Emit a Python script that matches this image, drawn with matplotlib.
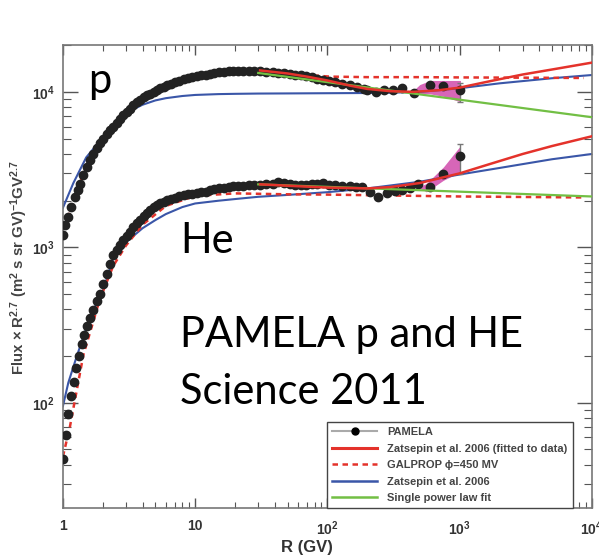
import matplotlib
matplotlib.use('Agg')
import matplotlib.pyplot as plt
from matplotlib.lines import Line2D

plt.rcParams['font.family'] = ['Liberation Sans', 'DejaVu Sans']
plt.rcParams['mathtext.fontset'] = 'custom'
plt.rcParams['mathtext.rm'] = 'Liberation Sans:bold'
plt.rcParams['mathtext.it'] = 'Liberation Sans:bold'
plt.rcParams['mathtext.bf'] = 'Liberation Sans:bold'

# PAMELA protons (R in GV, flux x R^2.7)
r_p = [1.00, 1.04, 1.10, 1.16, 1.23, 1.29, 1.35, 1.43, 1.51, 1.60, 1.70, 1.80, 1.91, 2.02,
       2.14, 2.27, 2.40, 2.55, 2.70, 2.87, 3.04, 3.22, 3.41, 3.62, 3.84, 4.07, 4.32, 4.56,
       4.85, 5.15, 5.47, 5.80, 6.10, 6.55, 7.00, 7.55, 8.17, 8.80, 9.50, 10.3, 11.1, 12.0,
       13.0, 14.0, 15.2, 16.5, 17.9, 19.5, 21.2, 23.2, 25.4, 28.0, 31.0, 34.5, 38.5, 42.5,
       47.0, 52.0, 57.0, 63.0, 69.0, 76.0, 84.0, 93.0, 103, 115, 130, 148, 168, 188, 200,
       235, 270, 311, 364, 455, 594, 755, 1015]
flux_p = [1195, 1390, 1570, 1820, 2110, 2340, 2575, 2950, 3300, 3650, 4010, 4350, 4680, 5020,
          5350, 5690, 6000, 6380, 6760, 7100, 7450, 7850, 8240, 8600, 8950, 9300, 9550, 9800,
          10100, 10400, 10650, 10870, 11090, 11350, 11580, 11800, 12080, 12300, 12500, 12700, 12870, 13000,
          13150, 13300, 13420, 13530, 13620, 13720, 13750, 13770, 13740, 13700, 13650, 13520, 13420, 13280,
          13200, 13050, 12950, 12870, 12700, 12550, 12200, 11950, 11750, 11600, 11300, 11100, 10750, 10560, 10400,
          10050, 10400, 10400, 10580, 9950, 11100, 10930, 10300]

# PAMELA helium
r_he = [1.00, 1.05, 1.10, 1.15, 1.21, 1.26, 1.32, 1.39, 1.45, 1.52, 1.60, 1.69, 1.80, 1.91,
        2.02, 2.14, 2.27, 2.40, 2.55, 2.70, 2.87, 3.04, 3.22, 3.41, 3.62, 3.84, 4.07, 4.32,
        4.58, 4.85, 5.15, 5.47, 5.80, 6.15, 6.55, 7.00, 7.55, 8.17, 8.80, 9.50, 10.3, 11.1,
        12.0, 13.0, 14.0, 15.2, 16.5, 17.9, 19.5, 21.2, 23.2, 25.4, 28.0, 31.0, 34.5, 38.5,
        42.5, 47.0, 52.0, 57.0, 63.0, 69.0, 76.0, 84.0, 93.0, 103, 115, 130, 148, 165, 183,
        211, 243, 282, 322, 370, 424, 488, 594, 755, 1015]
flux_he = [43.5, 62, 84, 110, 137, 168, 201, 240, 272, 310, 353, 398, 450, 500,
           580, 670, 780, 900, 970, 1040, 1110, 1180, 1260, 1350, 1430, 1510, 1590, 1670,
           1750, 1820, 1880, 1930, 1975, 2010, 2050, 2090, 2130, 2170, 2200, 2225, 2245, 2260,
           2290, 2330, 2370, 2400, 2430, 2450, 2475, 2490, 2500, 2510, 2520, 2520, 2560, 2570,
           2650, 2600, 2550, 2520, 2520, 2540, 2550, 2580, 2610, 2540, 2520, 2500, 2490, 2460, 2450,
           2280, 2110, 2230, 2320, 2340, 2400, 2580, 2450, 2980, 3870]

# error bars on the last points
err_r = [1015, 1015]
err_val = [10300, 3870]
err_lo = [8660, 2980]
err_hi = [11480, 4630]

# Zatsepin et al. 2006 (fitted to data)
fit_r_p = [31, 50, 70, 100, 150, 200, 300, 450, 700, 1000, 1720, 3000, 5000, 10000]
fit_p = [13800, 13200, 12600, 11900, 11000, 10500, 10150, 10050, 10300, 10700, 11800, 13000, 14000, 15500]
fit_r_he = [31, 60, 100, 200, 300, 500, 1000, 1720, 3000, 5000, 10000]
fit_he = [2550, 2480, 2430, 2400, 2450, 2600, 3000, 3460, 4000, 4500, 5200]

# GALPROP phi=450 MV
gal_r_p = [1.0, 1.2, 1.5, 2, 3, 4, 6, 10, 20, 40, 70, 105, 200, 500, 1000, 3000, 8700]
gal_p = [1160, 2050, 3250, 4990, 7380, 9200, 11050, 12600, 13650, 13400, 12900, 12600, 12500,
         12500, 12450, 12400, 12350]
gal_r_he = [1.0, 1.13, 1.43, 1.9, 2.4, 3, 4, 6, 10, 20, 50, 100, 1000, 8700]
gal_he = [45, 70, 204, 462, 760, 1030, 1400, 1850, 2150, 2230, 2200, 2190, 2130, 2100]

# Zatsepin et al. 2006
zat_r_p = [1.0, 1.2, 1.5, 2, 2.5, 3, 4, 5, 6, 8, 10, 15, 20, 30, 50, 100, 200, 300, 500,
           1000, 2000, 5000, 10000]
zat_p = [1800, 2600, 3800, 5100, 6300, 7350, 8300, 8850, 9150, 9450, 9600, 9720, 9760, 9800,
         9820, 9850, 9880, 9920, 10050, 10600, 11400, 12300, 12900]
zat_r_he = [1.0, 1.1, 1.27, 1.5, 1.8, 2.0, 2.4, 3, 4, 5, 6, 8, 10, 15, 20, 30, 50, 100, 200,
            500, 1000, 2000, 5000, 10000]
zat_he = [95, 135, 198, 300, 440, 520, 850, 1080, 1330, 1500, 1640, 1820, 1920, 2000, 2050,
          2120, 2180, 2270, 2400, 2650, 2950, 3250, 3700, 4000]

# Single power law fit
pl_r = [30, 10000]
pl_p = [13300, 6900]
pl_he = [2550, 2130]

# shaded bands at high rigidity
band_r_p = [430, 500, 600, 760, 1015]
band_lo_p = [9950, 9800, 9750, 9400, 8660]
band_hi_p = [9950, 11200, 11900, 11900, 11900]
band_r_he = [488, 560, 755, 1015]
band_lo_he = [2450, 2280, 2710, 3060]
band_hi_he = [2450, 2580, 3300, 4520]

red = '#e4322b'
blue = '#3a56a8'
green = '#72bf44'
pink = '#d766b8'
dot = '#222222'

fig = plt.figure(figsize=(5.99, 5.57), dpi=100)
ax = fig.add_axes([0.105, 0.088, 0.883, 0.831])
ax.set_xscale('log')
ax.set_yscale('log')

ax.fill_between(band_r_p, band_lo_p, band_hi_p, color=pink, lw=0, zorder=1)
ax.fill_between(band_r_he, band_lo_he, band_hi_he, color=pink, lw=0, zorder=1)

for r, v in [(zat_r_p, zat_p), (zat_r_he, zat_he)]:
    ax.plot(r, v, color=blue, lw=1.5, zorder=2)
for r, v in [(gal_r_p, gal_p), (gal_r_he, gal_he)]:
    ax.plot(r, v, color=red, lw=1.8, ls=(0, (2.2, 1.8)), zorder=2)

ax.errorbar(err_r, err_val,
            yerr=[[v - lo for v, lo in zip(err_val, err_lo)], [hi - v for v, hi in zip(err_val, err_hi)]],
            fmt='none', ecolor='#777777', elinewidth=1, capsize=2, zorder=3)
ax.plot(r_p, flux_p, 'o', color=dot, ms=6, mec=dot, zorder=3)
ax.plot(r_he, flux_he, 'o', color=dot, ms=6, mec=dot, zorder=3)

for r, v in [(pl_r, pl_p), (pl_r, pl_he)]:
    ax.plot(r, v, color=green, lw=1.6, zorder=4)
for r, v in [(fit_r_p, fit_p), (fit_r_he, fit_he)]:
    ax.plot(r, v, color=red, lw=1.8, zorder=4)

ax.set_xlim(1, 1e4)
ax.set_ylim(21, 20100)

ax.set_xticks([1, 10, 100, 1000, 10000])
ax.set_xticklabels(['1', '10', r'$10^2$', r'$10^3$', r'$10^4$'])
ax.set_yticks([100, 1000, 10000])
ax.set_yticklabels([r'$10^2$', r'$10^3$', r'$10^4$'])

ax.tick_params(which='both', direction='in', top=True, right=True, colors='#555555',
               labelcolor='#333333', labelsize=10)
ax.tick_params(axis='y', which='major', length=11, width=1, pad=6)
ax.tick_params(axis='y', which='minor', length=6, width=0.8)
ax.tick_params(axis='x', which='major', length=7, width=1, pad=8)
ax.tick_params(axis='x', which='minor', length=4, width=0.8)
for lab in ax.get_xticklabels() + ax.get_yticklabels():
    lab.set_fontweight('bold')
for s in ax.spines.values():
    s.set_color('#777777')
    s.set_linewidth(1.2)

ax.set_xlabel('R (GV)', fontsize=12, fontweight='bold', color='#333333')
ax.xaxis.set_label_coords(0.461, -0.07)
ax.set_ylabel(r'Flux $\times$ R$^{2.7}$ (m$^{2}$ s sr GV)$^{-1}$GV$^{2.7}$',
              fontsize=10.8, fontweight='bold', color='#444444')
ax.yaxis.set_label_coords(-0.062, 0.52)

handles = [
    Line2D([], [], color='#aaaaaa', lw=1.5, marker='o', ms=5, mfc='black', mec='black'),
    Line2D([], [], color=red, lw=2.2),
    Line2D([], [], color=red, lw=1.8, ls=(0, (2.2, 1.8))),
    Line2D([], [], color=blue, lw=1.8),
    Line2D([], [], color=green, lw=1.8),
]
labels = ['PAMELA', 'Zatsepin et al. 2006 (fitted to data)', 'GALPROP \u03d5=450 MV',
          'Zatsepin et al. 2006', 'Single power law fit']
leg = ax.legend(handles, labels, loc='lower left', bbox_to_anchor=(0.499, 0.0),
                prop={'size': 8, 'weight': 'bold'}, fancybox=False, framealpha=1,
                edgecolor='#444444', handlelength=4.1, labelspacing=0.58, borderaxespad=0,
                handletextpad=0.9, borderpad=0.45)
for t in leg.get_texts():
    t.set_color('#444444')

big = dict(fontsize=30, family=['Lato', 'DejaVu Sans'], color='black')
fig.text(88 / 599, 1 - 93 / 557, 'p', **big)
fig.text(180 / 599, 1 - 253 / 557, 'He', **big)
fig.text(180 / 599, 1 - 347 / 557, 'PAMELA p and HE', **big)
fig.text(180 / 599, 1 - 404 / 557, 'Science 2011', **big)

fig.savefig('out.png', dpi=100)
